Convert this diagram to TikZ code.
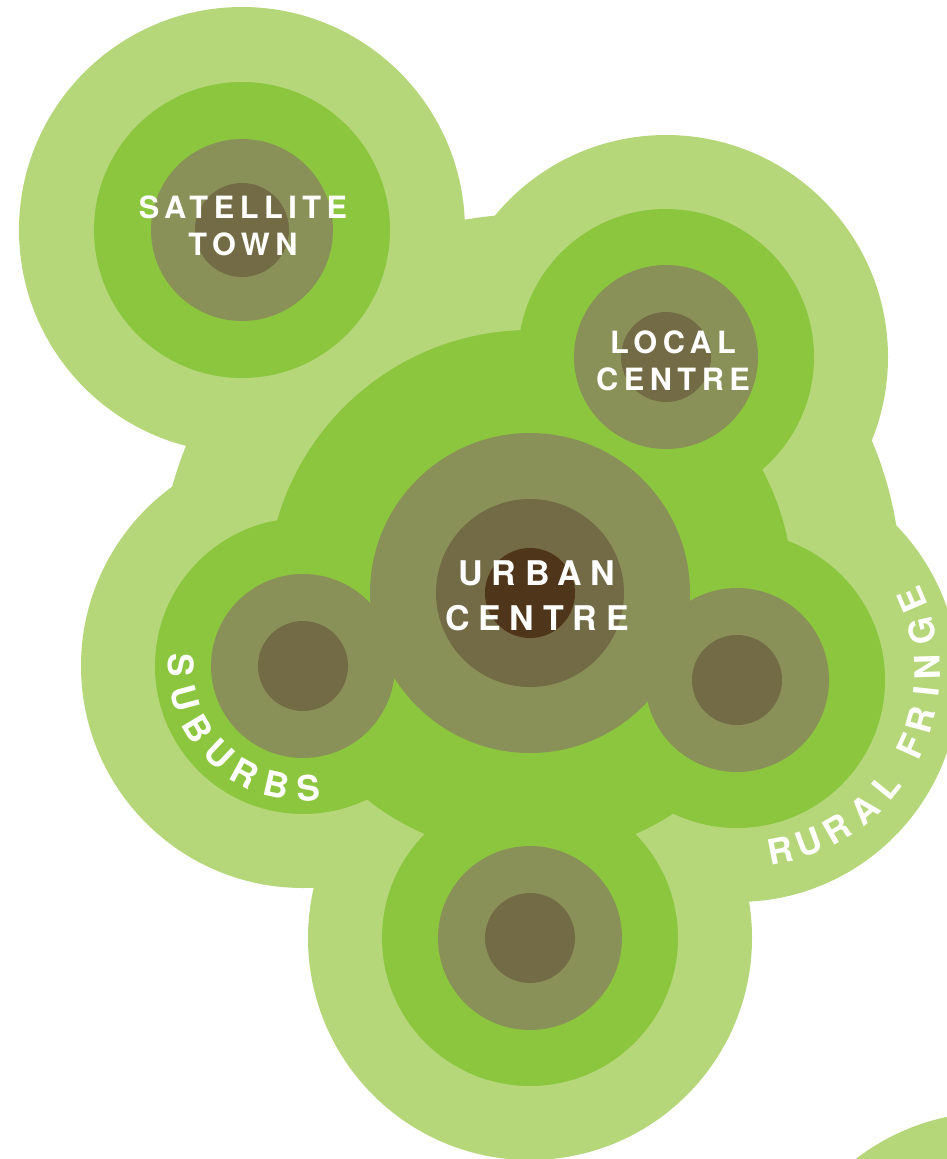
\documentclass[tikz,border=0pt]{standalone}
\usepackage{fontspec}
\newfontfamily\townfont{TeX Gyre Heros}[LetterSpace=18]
\newfontfamily\cityfont{TeX Gyre Heros}[LetterSpace=26]
\newfontfamily\arcfont{TeX Gyre Heros}
\definecolor{fringe}{RGB}{181,215,121}
\definecolor{suburb}{RGB}{140,198,63}
\definecolor{olive}{RGB}{138,145,88}
\definecolor{core}{RGB}{114,107,69}
\definecolor{heart}{RGB}{79,54,26}
\begin{document}
\begin{tikzpicture}[x = 1pt, y = 1pt,
    townlabel/.style = {text = white, inner sep = 0pt, anchor = base,
      font = \townfont\bfseries\fontsize{30.7}{37}\selectfont},
    citylabel/.style = {text = white, inner sep = 0pt, anchor = base,
      font = \cityfont\bfseries\fontsize{34}{45}\selectfont},
    arcletter/.style = {text = white, inner sep = 0pt,
      font = \arcfont\bfseries\fontsize{35}{40}\selectfont}]
  \useasboundingbox (0, 0) rectangle (947, -1159);
  \clip (0, 0) rectangle (947, -1159);
  \coordinate (satellite) at (242, -230);
  \coordinate (local) at (666, -357);
  \coordinate (urban) at (530, -593);
  \coordinate (suburbs) at (303, -666);
  \coordinate (rural) at (737, -680);
  \coordinate (lower) at (530, -938);
  \coordinate (corner) at (994, -1339);
  \coordinate (fringetext) at (745, -672);
  \fill[fringe] (530, -585) circle (371);
  \foreach \c/\r in {satellite/223, local/222, suburbs/222, rural/222, lower/222, corner/227}
    \fill[fringe] (\c) circle (\r);
  \foreach \c/\r in {satellite/148, local/148, urban/263, suburbs/148, rural/148, lower/148}
    \fill[suburb] (\c) circle (\r);
  \foreach \c/\r in {satellite/91, local/92, urban/160, suburbs/92, rural/92, lower/92}
    \fill[olive] (\c) circle (\r);
  \foreach \c/\r in {satellite/47, local/45, urban/94, suburbs/45, rural/45, lower/45}
    \fill[core] (\c) circle (\r);
  \fill[heart] (urban) circle (45);
  \node[townlabel] (sattop) at (243, -218) {SATELLITE};
  \node[townlabel] (satbot) at (243, -255) {TOWN};
  \node[townlabel] (loctop) at (673, -353) {LOCAL};
  \node[townlabel] (locbot) at (673, -390) {CENTRE};
  \node[citylabel] (urbtop) at (537, -585) {URBAN};
  \node[citylabel] (urbbot) at (537, -630) {CENTRE};
  \foreach \ch/\ang [count = \i] in {S/179.5, U/195.3, B/211, U/226.5, R/241.5, B/257.3, S/272.8}
    \node[arcletter, rotate = \ang + 90] (sub-\i) at ([shift = {(\ang:122)}]suburbs) {\ch};
  \foreach \ch/\ang [count = \i] in {R/-78.9, U/-69.5, R/-59.7, A/-48.9, L/-39, F/-24.3, R/-15.2, I/-6.2, N/1.6, G/13, E/23.3}
    \node[arcletter, rotate = \ang + 90] (rur-\i) at ([shift = {(\ang:182)}]fringetext) {\ch};
\end{tikzpicture}
\end{document}
